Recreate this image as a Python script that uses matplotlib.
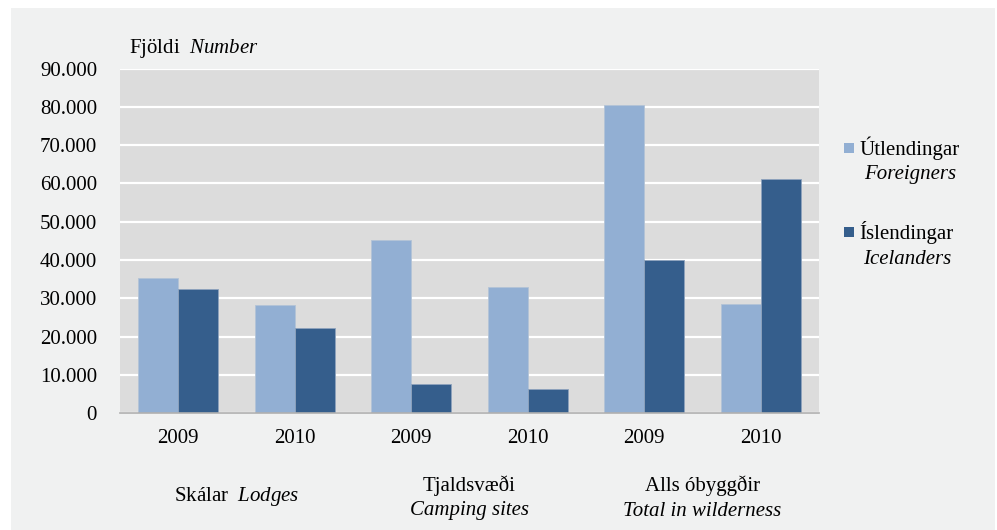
import numpy as np
from matplotlib import pyplot as plt
from matplotlib.patches import Rectangle
from matplotlib.transforms import blended_transform_factory

# values
years = ['2009', '2010', '2009', '2010', '2009', '2010']
groups = ['Skálar', 'Tjaldsvæði', 'Alls óbyggðir']
groups_en = ['Lodges', 'Camping sites', 'Total in wilderness']
foreigners = [35240, 28270, 45310, 32970, 80550, 28530]
icelanders = [32370, 22270, 7730, 6260, 40020, 61150]

c_light = '#92afd3'
c_dark = '#355e8c'

plt.rcParams['font.family'] = ['Liberation Serif', 'DejaVu Serif']
plt.rcParams['mathtext.fontset'] = 'custom'
plt.rcParams['mathtext.rm'] = 'Liberation Serif'
plt.rcParams['mathtext.it'] = 'Liberation Serif:italic'
fs = 15

W, H = 997, 530
fig = plt.figure(figsize=(W / 100, H / 100), dpi=100, facecolor='white')
fig.patches.append(Rectangle((11 / W, 0), (995 - 11) / W, (H - 8) / H,
                             transform=fig.transFigure, facecolor='#f0f1f1',
                             edgecolor='none', zorder=-10))

ax = fig.add_axes([120 / W, (H - 413.3) / H, 699 / W, (413.3 - 68.5) / H])
ax.set_facecolor('#dcdcdc')

x = np.arange(len(years))
w = 0.343
ax.bar(x - w / 2, foreigners, w, color=c_light, edgecolor='#b3c3d6', linewidth=0.6, zorder=3)
ax.bar(x + w / 2, icelanders, w, color=c_dark, edgecolor='#8ea3bd', linewidth=0.6, zorder=3)

ax.set_xlim(-0.5, len(years) - 0.5)
ax.set_ylim(0, 90000)
ax.set_yticks(np.arange(0, 90001, 10000))
ax.set_yticklabels(['0'] + ['{:,}'.format(v).replace(',', '.') for v in range(10000, 90001, 10000)])
ax.set_xticks(x)
ax.set_xticklabels(years)
ax.tick_params(axis='y', length=0, pad=16.5, labelsize=fs)
ax.tick_params(axis='x', length=0, pad=11, labelsize=fs)
ax.grid(axis='y', color='white', linewidth=1.6, zorder=1)
ax.set_axisbelow(True)
for s in ['top', 'right', 'left']:
    ax.spines[s].set_visible(False)
ax.spines['bottom'].set_color('#b0b0b0')
ax.spines['bottom'].set_linewidth(1.2)
ax.spines['bottom'].set_zorder(4)

def fy(py):
    return (H - py) / H

tr = blended_transform_factory(ax.transData, fig.transFigure)
ax.text(0.5, fy(497), r'Skálar  $\mathit{Lodges}$', transform=tr, ha='center', va='center', fontsize=fs)
ax.text(2.5, fy(486), groups[1], transform=tr, ha='center', va='center', fontsize=fs)
ax.text(2.5, fy(511), groups_en[1], transform=tr, ha='center', va='center', fontsize=fs, style='italic')
ax.text(4.5, fy(486), groups[2], transform=tr, ha='center', va='center', fontsize=fs)
ax.text(4.5, fy(511), groups_en[2], transform=tr, ha='center', va='center', fontsize=fs, style='italic')

fig.text(129 / W, fy(49), r'Fjöldi  $\mathit{Number}$', ha='left', va='center', fontsize=fs)

# legend drawn by hand
for col, name, name_en, yc, xc in [(c_light, 'Útlendingar', 'Foreigners', 148, 910),
                                   (c_dark, 'Íslendingar', 'Icelanders', 232, 907)]:
    fig.patches.append(Rectangle((844 / W, fy(yc + 5)), 10 / W, 10 / H,
                                 transform=fig.transFigure, facecolor=col, edgecolor='none'))
    fig.text(859 / W, fy(yc), name, ha='left', va='center', fontsize=fs)
    fig.text(xc / W, fy(yc + 27), name_en, ha='center', va='center', fontsize=fs, style='italic')

fig.savefig('out.png', dpi=100, facecolor=fig.get_facecolor())
